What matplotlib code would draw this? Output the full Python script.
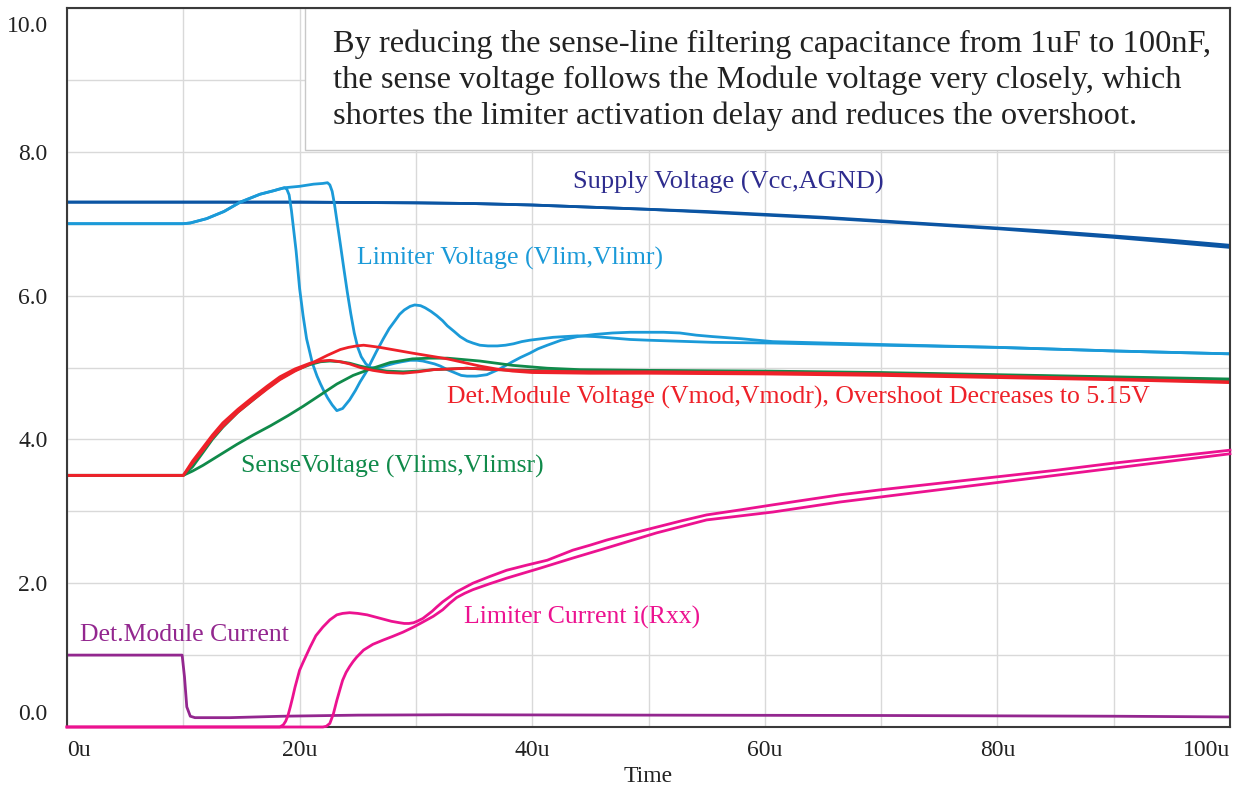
import matplotlib
matplotlib.use("Agg")
import matplotlib.pyplot as plt
from matplotlib.transforms import ScaledTranslation
from matplotlib.patches import Rectangle

plt.rcParams['font.family'] = ['Liberation Serif', 'DejaVu Serif']

# time axis in microseconds
sup_t = [0, 10, 20, 30, 35, 40, 45, 50, 55, 60, 65, 70, 75, 80, 85, 90, 95, 100]
sup1 = [7.30, 7.30, 7.30, 7.29, 7.28, 7.26, 7.23, 7.20, 7.17, 7.13, 7.09, 7.04, 6.99, 6.94, 6.89, 6.83, 6.77, 6.70]
sup2 = [7.30, 7.30, 7.30, 7.29, 7.28, 7.26, 7.23, 7.20, 7.16, 7.12, 7.08, 7.03, 6.98, 6.93, 6.87, 6.81, 6.74, 6.67]

# limiter voltage, fast (100nF) and slow (1uF) case
lv1_t = [0, 10, 10.6, 12, 13.5, 14.9, 16.6, 17.8, 18.2, 18.7, 18.9, 19.1, 19.3, 19.5, 19.7, 20.0, 20.3, 20.6,
         21.1, 21.5, 21.8, 22.1, 22.4, 22.8, 23.2, 23.7, 24.3, 24.8, 25.2, 25.7, 26.1, 26.6, 27.2, 27.7,
         28.2, 28.6, 29.0, 29.5, 29.9, 30.4, 30.8, 31.3, 31.8, 32.3, 32.7, 33.3, 33.8, 34.4, 34.9, 35.5,
         36.2, 37.0, 37.7, 38.4, 39.1, 39.8, 40.8, 41.8, 42.8, 43.9, 45.4, 46.9, 48.4, 49.9, 55.5, 60.7,
         70, 80, 90, 100]
lv1 = [7.0, 7.0, 7.01, 7.07, 7.17, 7.30, 7.41, 7.46, 7.48, 7.50, 7.48, 7.40, 7.18, 6.90, 6.62, 6.10, 5.72, 5.40,
       5.06, 4.88, 4.77, 4.67, 4.58, 4.48, 4.40, 4.43, 4.55, 4.68, 4.80, 4.93, 5.06, 5.22, 5.40, 5.54,
       5.65, 5.74, 5.80, 5.85, 5.87, 5.86, 5.83, 5.78, 5.72, 5.65, 5.58, 5.50, 5.43, 5.37, 5.34, 5.31,
       5.30, 5.30, 5.31, 5.33, 5.36, 5.38, 5.40, 5.42, 5.43, 5.44, 5.43, 5.41, 5.39, 5.38, 5.35, 5.34,
       5.31, 5.28, 5.23, 5.19]
lv2_t = [0, 10, 10.6, 12, 13.5, 14.9, 16.6, 17.8, 18.7, 20.0, 21.2, 22.0, 22.4, 22.6, 22.8, 23.0, 23.2, 23.5,
         23.8, 24.1, 24.4, 24.7, 25.0, 25.3, 25.7, 26.1, 26.6, 27.1, 27.5, 28.2, 28.8, 29.5, 30.1, 30.6,
         31.1, 31.6, 32.1, 32.7, 33.3, 33.9, 34.4, 35.2, 36.1, 37.2, 38.3, 39.0, 39.8, 40.5, 41.3, 42.5,
         43.9, 45.4, 46.9, 48.4, 49.9, 51.3, 52.7, 54.1, 55.5, 58.0, 60.7, 70, 80, 90, 100]
lv2 = [7.0, 7.0, 7.01, 7.07, 7.17, 7.30, 7.41, 7.46, 7.50, 7.52, 7.55, 7.56, 7.57, 7.54, 7.45, 7.27, 7.05, 6.72,
       6.38, 6.05, 5.75, 5.48, 5.28, 5.15, 5.05, 5.00, 4.99, 5.01, 5.03, 5.06, 5.08, 5.10, 5.10, 5.09,
       5.07, 5.05, 5.02, 4.97, 4.93, 4.89, 4.88, 4.88, 4.90, 4.98, 5.08, 5.14, 5.20, 5.26, 5.31, 5.38,
       5.43, 5.46, 5.48, 5.49, 5.49, 5.49, 5.48, 5.45, 5.43, 5.40, 5.36, 5.32, 5.28, 5.23, 5.19]

# det. module voltage
r1_t = [0, 10, 10.8, 11.7, 12.5, 13.4, 14.7, 16.0, 17.2, 18.3, 19.6, 20.9, 21.8, 22.6, 23.5, 24.3, 25.2,
        26.3, 27.5, 28.9, 30.2, 31.5, 33.0, 34.4, 37, 40, 45, 50, 60, 70, 80, 90, 100]
r1 = [3.5, 3.5, 3.70, 3.89, 4.06, 4.23, 4.42, 4.59, 4.74, 4.87, 4.98, 5.06, 5.09, 5.10, 5.08, 5.05, 5.00,
      4.96, 4.93, 4.92, 4.94, 4.97, 4.98, 4.99, 4.97, 4.95, 4.94, 4.94, 4.93, 4.91, 4.88, 4.84, 4.80]
r2_t = [0, 10, 10.8, 11.7, 12.5, 13.4, 14.7, 16.0, 17.2, 18.3, 19.6, 20.9, 22.4, 23.5, 24.2, 24.9, 25.5,
        26.0, 26.9, 28.3, 29.7, 31.2, 32.7, 34.1, 35.5, 36.9, 38.3, 40, 45, 50, 60, 70, 80, 90, 100]
r2 = [3.5, 3.5, 3.67, 3.85, 4.02, 4.18, 4.38, 4.55, 4.70, 4.83, 4.95, 5.05, 5.17, 5.25, 5.28, 5.30, 5.31,
      5.30, 5.28, 5.24, 5.20, 5.16, 5.12, 5.07, 5.02, 4.98, 4.95, 4.93, 4.92, 4.92, 4.91, 4.89, 4.86, 4.83, 4.79]

# sense voltage
g1_t = r1_t
g1 = [3.5, 3.5, 3.62, 3.82, 4.00, 4.17, 4.38, 4.55, 4.71, 4.84, 4.96, 5.04, 5.08, 5.09, 5.08, 5.06, 5.02,
      4.98, 4.95, 4.94, 4.95, 4.97, 4.98, 4.99, 4.97, 4.96, 4.95, 4.95, 4.94, 4.92, 4.89, 4.86, 4.83]
g2_t = [0, 10, 10.8, 11.7, 13.0, 14.6, 16.0, 17.5, 19.0, 20.3, 21.8, 23.2, 24.6, 26.1, 27.8, 29.7, 31.2,
        32.7, 34.1, 35.5, 38.3, 41.3, 44.1, 50, 60, 70, 80, 90, 100]
g2 = [3.5, 3.5, 3.56, 3.64, 3.77, 3.93, 4.06, 4.19, 4.33, 4.46, 4.62, 4.77, 4.89, 4.98, 5.07, 5.12, 5.13,
      5.13, 5.11, 5.09, 5.03, 4.99, 4.97, 4.96, 4.95, 4.93, 4.90, 4.87, 4.84]

# limiter current
p1_t = [0, 18.3, 18.6, 18.8, 19.0, 19.2, 19.4, 19.6, 19.8, 20.0, 20.3, 20.5, 20.9, 21.4, 22.0, 22.6, 23.2,
        23.7, 24.3, 25.0, 25.8, 26.5, 27.2, 27.9, 28.6, 29.0, 29.4, 29.8, 30.1, 30.6, 31.0, 31.4, 31.8,
        32.3, 32.9, 33.5, 34.2, 34.9, 36.3, 37.8, 39.5, 41.3, 42.4, 43.5, 45.0, 46.4, 48.5, 50.7, 52.9,
        55.0, 57.9, 60.7, 63.6, 66.5, 70, 75, 80, 85, 90, 95, 100]
p1 = [0, 0, 0.03, 0.08, 0.16, 0.28, 0.41, 0.55, 0.67, 0.79, 0.90, 0.97, 1.11, 1.27, 1.39, 1.49, 1.56,
      1.58, 1.59, 1.58, 1.56, 1.53, 1.50, 1.47, 1.45, 1.44, 1.44, 1.45, 1.47, 1.51, 1.56, 1.61, 1.67,
      1.74, 1.81, 1.88, 1.94, 2.00, 2.09, 2.18, 2.25, 2.32, 2.39, 2.46, 2.53, 2.60, 2.69, 2.78, 2.87,
      2.95, 3.02, 3.09, 3.16, 3.23, 3.30, 3.39, 3.48, 3.57, 3.67, 3.76, 3.85]
p2_t = [0, 22.0, 22.3, 22.6, 22.9, 23.2, 23.5, 23.7, 24.0, 24.3, 24.6, 24.9, 25.5, 26.3, 27.2, 28.0, 28.9,
        29.8, 30.6, 31.5, 32.3, 32.9, 33.5, 34.2, 34.9, 36.3, 37.8, 40.7, 43.5, 46.4, 50.7, 55.0, 60.7,
        66.5, 70, 75, 80, 85, 90, 95, 100]
p2 = [0, 0, 0.01, 0.05, 0.18, 0.37, 0.54, 0.65, 0.76, 0.84, 0.91, 0.97, 1.07, 1.15, 1.21, 1.26, 1.32,
      1.39, 1.46, 1.54, 1.63, 1.72, 1.80, 1.86, 1.91, 1.99, 2.07, 2.21, 2.35, 2.49, 2.70, 2.88, 2.99,
      3.13, 3.20, 3.30, 3.40, 3.50, 3.60, 3.70, 3.80]

# det. module current
cur_t = [0, 9.9, 10.1, 10.3, 10.6, 11.0, 14, 18.6, 25, 32.9, 50, 70, 90, 100]
cur = [1.0, 1.0, 0.70, 0.28, 0.15, 0.13, 0.13, 0.15, 0.165, 0.17, 0.165, 0.16, 0.15, 0.14]

x_ticks = [0, 20, 40, 60, 80, 100]
x_labels = ['0u', '20u', '40u', '60u', '80u', '100u']
y_ticks = [0, 2, 4, 6, 8, 10]
y_labels = ['0.0', '2.0', '4.0', '6.0', '8.0', '10.0']

note = ("By reducing the sense-line filtering capacitance from 1uF to 100nF,\n"
        "the sense voltage follows the Module voltage very closely, which\n"
        "shortes the limiter activation delay and reduces the overshoot.")

c_sup, c_sup_txt = '#0b55a3', '#2e2c8e'
c_lim = '#1b9ad8'
c_red = '#ee2129'
c_grn = '#108a4a'
c_pink = '#ec1290'
c_pur = '#93278f'

fig = plt.figure(figsize=(12.43, 7.87), dpi=100)
ax = fig.add_axes([67 / 1243, 60 / 787, 1163 / 1243, 719 / 787])

lw = 2.0
ax.plot(sup_t, sup1, color=c_sup, lw=lw)
ax.plot(sup_t, sup2, color=c_sup, lw=lw)
ax.plot(lv1_t, lv1, color=c_lim, lw=lw)
ax.plot(lv2_t, lv2, color=c_lim, lw=lw)
ax.plot(g2_t, g2, color=c_grn, lw=lw)
ax.plot(g1_t, g1, color=c_grn, lw=lw)
ax.plot(r2_t, r2, color=c_red, lw=lw)
ax.plot(r1_t, r1, color=c_red, lw=lw)
ax.plot(cur_t, cur, color=c_pur, lw=lw)
ax.plot(p1_t, p1, color=c_pink, lw=lw, clip_on=False, zorder=3)
ax.plot(p2_t, p2, color=c_pink, lw=lw, clip_on=False, zorder=3)

ax.set_xlim(0, 100)
ax.set_ylim(0, 10)
ax.set_xticks(range(0, 101, 10), minor=True)
ax.set_yticks(range(0, 11), minor=True)
ax.set_xticks(x_ticks)
ax.set_xticklabels(x_labels)
ax.set_yticks(y_ticks)
ax.set_yticklabels(y_labels)
ax.grid(which='both', color='#d9d9d9', lw=1.0)
ax.set_axisbelow(True)
ax.tick_params(which='both', length=0, labelsize=17, colors='#222222')
ax.tick_params(axis='y', pad=14)
ax.tick_params(axis='x', pad=9)
for s in ax.spines.values():
    s.set_color('#3a3a3a')
    s.set_linewidth(1.5)

# end labels pulled inside, like the simulator does
xl = ax.get_xticklabels()
xl[0].set_ha('left')
xl[-1].set_ha('right')
yl = ax.get_yticklabels()
yl[0].set_transform(yl[0].get_transform() + ScaledTranslation(0, 0.15, fig.dpi_scale_trans))
yl[-1].set_transform(yl[-1].get_transform() + ScaledTranslation(0, -0.16, fig.dpi_scale_trans))

ax.set_xlabel('Time', fontsize=17, color='#222222', labelpad=4)

# note box
ax.add_patch(Rectangle((20.5, 8.03), 79.5, 1.97, facecolor='white', edgecolor='#c8c8c8',
                       lw=1.0, zorder=2.2))
ax.text(22.9, 8.99, note, fontsize=23.4, color='#222222', va='center', ha='left',
        linespacing=1.29, zorder=2.3)

fs = 18.5
ax.text(43.5, 7.57, 'Supply Voltage (Vcc,AGND)', color=c_sup_txt, fontsize=19, va='center')
ax.text(24.9, 6.52, 'Limiter Voltage (Vlim,Vlimr)', color=c_lim, fontsize=fs, va='center')
ax.text(32.7, 4.58, 'Det.Module Voltage (Vmod,Vmodr), Overshoot Decreases to 5.15V', color=c_red,
        fontsize=fs, va='center')
ax.text(15.0, 3.62, 'SenseVoltage (Vlims,Vlimsr)', color=c_grn, fontsize=fs, va='center')
ax.text(34.1, 1.52, 'Limiter Current i(Rxx)', color=c_pink, fontsize=fs, va='center')
ax.text(1.1, 1.28, 'Det.Module Current', color=c_pur, fontsize=fs, va='center')

fig.savefig('out.png', dpi=100)
